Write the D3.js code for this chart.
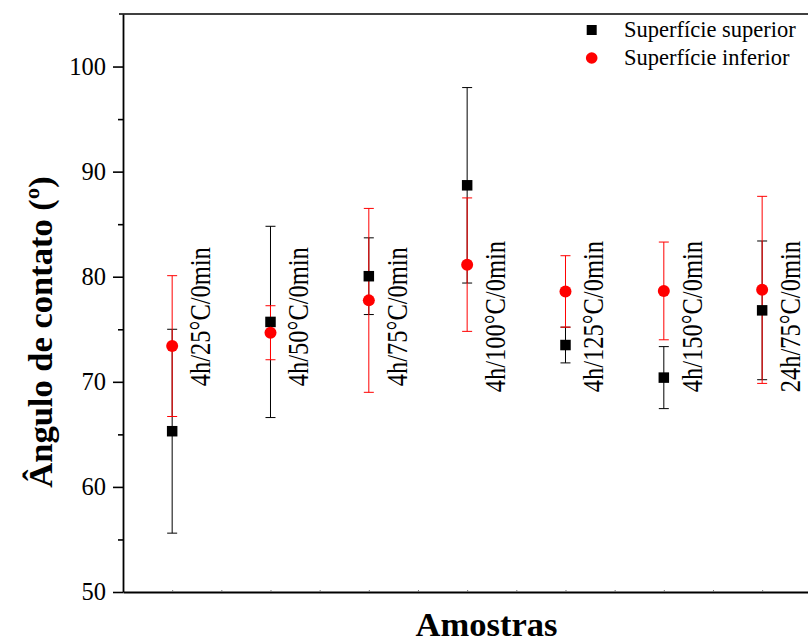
<!DOCTYPE html>
<html>
<head>
<meta charset="utf-8">
<script src="https://cdn.jsdelivr.net/npm/d3@7"></script>
<style>
  html, body { margin: 0; padding: 0; background: #fff; }
  svg { display: block; }
  text { font-family: "Liberation Serif", "Times New Roman", serif; fill: #000; }
</style>
</head>
<body>
<div id="chart"></div>
<script>
// Contact angle per sample, top and bottom surface
const samples = ["4h/25°C/0min", "4h/50°C/0min", "4h/75°C/0min", "4h/100°C/0min",
                 "4h/125°C/0min", "4h/150°C/0min", "24h/75°C/0min"];
const superiorMean = [65.3, 75.7, 80.05, 88.7, 73.5, 70.4, 76.8];
const superiorErr  = [9.7, 9.1, 3.65, 9.3, 1.7, 2.95, 6.6];
const inferiorMean = [73.4, 74.67, 77.75, 81.15, 78.6, 78.65, 78.75];
const inferiorErr  = [6.7, 2.57, 8.75, 6.35, 3.4, 4.65, 8.9];
const yMajorTicks = [50, 60, 70, 80, 90, 100];
const yMinorTicks = [55, 65, 75, 85, 95];
const seriesNames = ["Superfície superior", "Superfície inferior"];

const SERIF = "Liberation Serif, Times New Roman, serif";
const W = 808, H = 642;
const plotLeft = 123, plotTop = 14, plotBottom = 592;
const step = 98.33;

const svg = d3.select("#chart").append("svg").attr("width", W).attr("height", H)
  .attr("font-family", SERIF);

const x = d3.scaleLinear().domain([0.5, 7.5]).range([plotLeft, plotLeft + 7 * step]);
const y = d3.scaleLinear().domain([50, 105]).range([plotBottom, plotTop]);

// frame: top line
svg.append("line").attr("x1", plotLeft - 4).attr("x2", W).attr("y1", plotTop).attr("y2", plotTop)
  .attr("stroke", "#000").attr("stroke-width", 1.6);

// y axis, major + minor ticks
const yAxis = svg.append("g").attr("transform", `translate(${plotLeft},0)`)
  .call(d3.axisLeft(y).tickValues(yMajorTicks).tickSize(10).tickPadding(7).tickSizeOuter(0));
yAxis.attr("font-family", SERIF);
yAxis.select(".domain").attr("stroke-width", 1.8);
yAxis.selectAll(".tick line").attr("stroke-width", 1.6);
yAxis.selectAll(".tick text").attr("font-size", 24.5).attr("font-family", SERIF);
svg.append("g").attr("transform", `translate(${plotLeft},0)`)
  .call(d3.axisLeft(y).tickValues(yMinorTicks).tickSize(5).tickFormat("").tickSizeOuter(0))
  .call(g => g.select(".domain").remove())
  .selectAll(".tick line").attr("stroke-width", 1.6);

// x axis, small inner ticks without labels
const xTicks = d3.range(1, 15).map(i => 0.5 + i * 0.5).filter(v => v < 7.5);
const xAxis = svg.append("g").attr("transform", `translate(0,${plotBottom})`)
  .call(d3.axisBottom(x).tickValues(xTicks).tickSize(-2).tickFormat("").tickSizeOuter(0));
xAxis.select(".domain").attr("stroke-width", 1.8);
xAxis.selectAll(".tick line").attr("stroke", "#777").attr("stroke-width", 1);

// axis titles
svg.append("text")
  .attr("x", 486.5).attr("y", 636)
  .attr("text-anchor", "middle").attr("font-weight", "bold").attr("font-size", 34.5)
  .attr("font-family", SERIF)
  .text("Amostras");
svg.append("text")
  .attr("transform", `translate(52,332) rotate(-90)`)
  .attr("text-anchor", "middle").attr("font-weight", "bold").attr("font-size", 34.5)
  .attr("font-family", SERIF)
  .text("Ângulo de contato (º)");

const idx = d3.range(samples.length);
const capW = 5;

function errorBars(mean, err, color) {
  const g = svg.append("g").attr("stroke", color).attr("stroke-width", 1);
  g.selectAll("line.v").data(idx).join("line").attr("class", "v")
    .attr("x1", i => x(i + 1)).attr("x2", i => x(i + 1))
    .attr("y1", i => y(mean[i] - err[i])).attr("y2", i => y(mean[i] + err[i]));
  g.selectAll("line.t").data(idx).join("line").attr("class", "t")
    .attr("x1", i => x(i + 1) - capW).attr("x2", i => x(i + 1) + capW)
    .attr("y1", i => y(mean[i] + err[i])).attr("y2", i => y(mean[i] + err[i]));
  g.selectAll("line.b").data(idx).join("line").attr("class", "b")
    .attr("x1", i => x(i + 1) - capW).attr("x2", i => x(i + 1) + capW)
    .attr("y1", i => y(mean[i] - err[i])).attr("y2", i => y(mean[i] - err[i]));
}

errorBars(superiorMean, superiorErr, "#000");
errorBars(inferiorMean, inferiorErr, "#ff0000");

const sq = 10.5;
svg.append("g").selectAll("rect").data(idx).join("rect")
  .attr("x", i => x(i + 1) - sq / 2).attr("y", i => y(superiorMean[i]) - sq / 2)
  .attr("width", sq).attr("height", sq).attr("fill", "#000");
svg.append("g").selectAll("circle").data(idx).join("circle")
  .attr("cx", i => x(i + 1)).attr("cy", i => y(inferiorMean[i]))
  .attr("r", 6).attr("fill", "#ff0000");

// sample labels, vertical beside each pair of points
svg.append("g").selectAll("text").data(idx).join("text")
  .attr("transform", i => `translate(${x(i + 1) + 38},${y(76.2)}) rotate(-90) scale(1,1.2)`)
  .attr("text-anchor", "middle").attr("font-size", 24.5)
  .attr("font-family", SERIF)
  .text(i => samples[i]);

// legend
const lg = svg.append("g");
lg.append("rect").attr("x", 591.7 - 5).attr("y", 30 - 5).attr("width", 10).attr("height", 10).attr("fill", "#000");
lg.append("circle").attr("cx", 591.7).attr("cy", 58).attr("r", 5.8).attr("fill", "#ff0000");
lg.append("text").attr("x", 624).attr("y", 37.3).attr("font-size", 22.5).attr("font-family", SERIF).text(seriesNames[0]);
lg.append("text").attr("x", 624).attr("y", 65).attr("font-size", 22.5).attr("font-family", SERIF).text(seriesNames[1]);
</script>
</body>
</html>
